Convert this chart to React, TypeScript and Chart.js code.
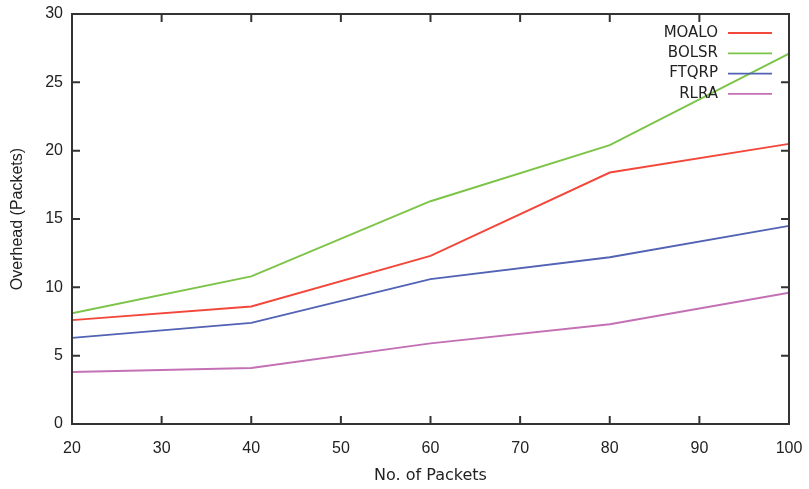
import React, { useEffect, useRef } from "react";
import { Chart, registerables } from "chart.js";

Chart.register(...registerables);

const xValues = [20, 40, 60, 80, 100];
const moalo = [7.6, 8.6, 12.3, 18.4, 20.5];
const bolsr = [8.1, 10.8, 16.3, 20.4, 27.1];
const ftqrp = [6.3, 7.4, 10.6, 12.2, 14.5];
const rlra = [3.8, 4.1, 5.9, 7.3, 9.6];
const seriesNames = ["MOALO", "BOLSR", "FTQRP", "RLRA"];
const seriesColors = ["#f2473a", "#7cc447", "#5262b4", "#c470b4"];

const frameColor = "#333333";

const framePlugin = {
  id: "gnuframe",
  afterDatasetsDraw(chart: any) {
    const { ctx, chartArea: a, scales } = chart;
    ctx.save();
    ctx.strokeStyle = frameColor;
    ctx.lineWidth = 2;
    ctx.strokeRect(a.left, a.top, a.right - a.left, a.bottom - a.top);
    const tl = 8;
    ctx.beginPath();
    scales.x.ticks.forEach((t: any) => {
      const px = scales.x.getPixelForValue(t.value);
      if (Math.abs(px - a.left) < 1 || Math.abs(px - a.right) < 1) return;
      ctx.moveTo(px, a.bottom);
      ctx.lineTo(px, a.bottom - tl);
      ctx.moveTo(px, a.top);
      ctx.lineTo(px, a.top + tl);
    });
    scales.y.ticks.forEach((t: any) => {
      const py = scales.y.getPixelForValue(t.value);
      if (Math.abs(py - a.top) < 1 || Math.abs(py - a.bottom) < 1) return;
      ctx.moveTo(a.left, py);
      ctx.lineTo(a.left + tl, py);
      ctx.moveTo(a.right, py);
      ctx.lineTo(a.right - tl, py);
    });
    ctx.stroke();

    // legend
    ctx.font = "15px 'DejaVu Sans'";
    ctx.textAlign = "right";
    ctx.textBaseline = "middle";
    chart.data.datasets.forEach((ds: any, i: number) => {
      const y = a.top + 19 + i * 20.3;
      ctx.fillStyle = "#222222";
      ctx.fillText(ds.label, a.right - 71, y);
      ctx.strokeStyle = ds.borderColor;
      ctx.lineWidth = 1.8;
      ctx.beginPath();
      ctx.moveTo(a.right - 61, y);
      ctx.lineTo(a.right - 17, y);
      ctx.stroke();
    });
    ctx.restore();
  },
};

export default function App() {
  const ref = useRef<HTMLCanvasElement>(null);
  useEffect(() => {
    document.body.style.margin = "0";
    const series = [moalo, bolsr, ftqrp, rlra];
    const chart = new Chart(ref.current!, {
      type: "line",
      data: {
        datasets: series.map((s, i) => ({
          label: seriesNames[i],
          data: s.map((v, j) => ({ x: xValues[j], y: v })),
          borderColor: seriesColors[i],
          backgroundColor: seriesColors[i],
          borderWidth: 1.9,
          pointRadius: 0,
          tension: 0,
          fill: false,
        })),
      },
      options: {
        responsive: false,
        animation: false,
        layout: { padding: { top: 14, right: 20, left: 0, bottom: 0 } },
        plugins: { legend: { display: false }, tooltip: { enabled: false } },
        scales: {
          x: {
            type: "linear",
            min: 20,
            max: 100,
            ticks: {
              stepSize: 10,
              padding: 15,
              color: "#222222",
              font: { family: "'Liberation Sans'", size: 16 },
            },
            grid: { display: false, drawTicks: false },
            border: { display: false },
            title: {
              display: true,
              text: "No. of Packets",
              color: "#222222",
              font: { family: "'DejaVu Sans'", size: 16 },
              padding: { top: 0, bottom: 4 },
            },
            afterFit: (s: any) => {
              s.height = 65;
              s.paddingRight = 0;
              s.paddingLeft = 0;
            },
          },
          y: {
            min: 0,
            max: 30,
            ticks: {
              stepSize: 5,
              padding: 9,
              color: "#222222",
              font: { family: "'Liberation Sans'", size: 16 },
            },
            grid: { display: false, drawTicks: false },
            border: { display: false },
            title: {
              display: true,
              text: "Overhead (Packets)",
              color: "#222222",
              font: { family: "'Liberation Sans'", size: 16 },
              padding: { top: 8, bottom: 0 },
            },
            afterFit: (s: any) => {
              s.width = 72;
              s.paddingTop = 0;
              s.paddingBottom = 0;
            },
          },
        },
      },
      plugins: [framePlugin],
    });
    return () => chart.destroy();
  }, []);
  return (
    <div style={{ width: 809, height: 489 }}>
      <canvas ref={ref} width={809} height={489} />
    </div>
  );
}
